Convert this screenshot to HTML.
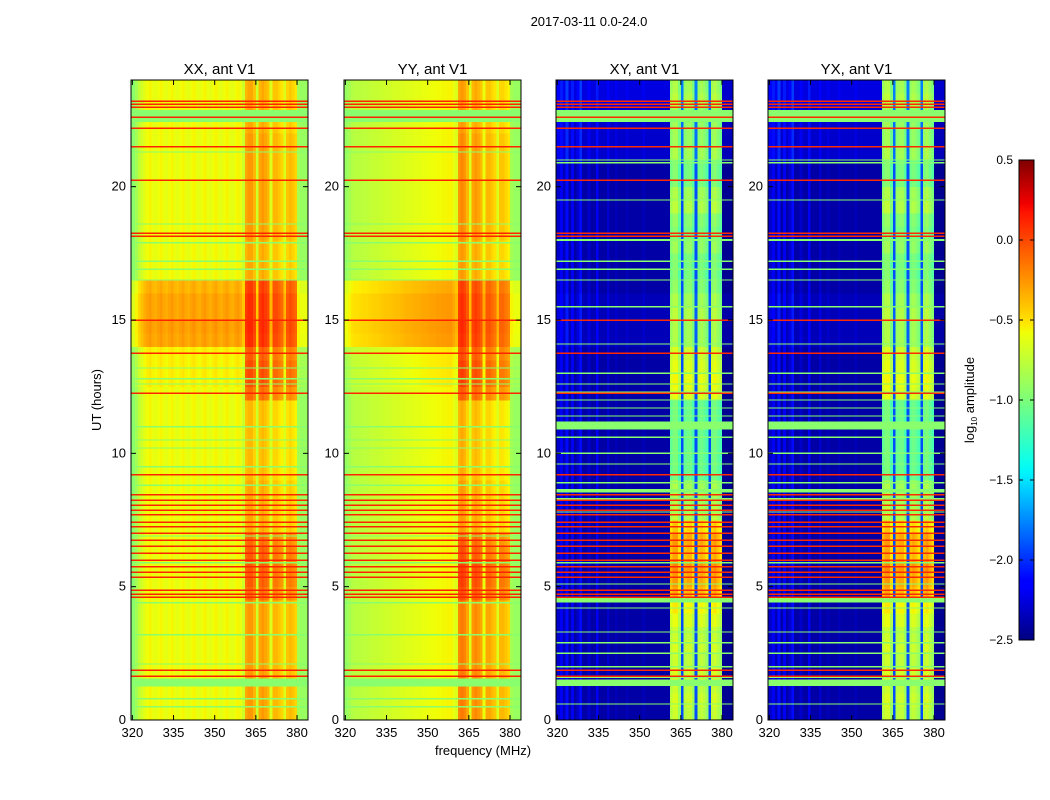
<!DOCTYPE html>
<html><head><meta charset="utf-8">
<style>
body{margin:0;background:#fff;}
svg{display:block;font-family:"Liberation Sans",sans-serif;}
</style></head>
<body>
<svg id="fig" width="1050" height="800" xmlns="http://www.w3.org/2000/svg">
<defs>
<linearGradient id="jet" x1="0" y1="1" x2="0" y2="0">
<stop offset="0" stop-color="#000080"/><stop offset="0.11" stop-color="#0000ff"/>
<stop offset="0.125" stop-color="#0000ff"/><stop offset="0.34" stop-color="#00ecff"/>
<stop offset="0.35" stop-color="#00f6fb"/><stop offset="0.375" stop-color="#0fffe8"/>
<stop offset="0.5" stop-color="#7cff79"/><stop offset="0.64" stop-color="#efff08"/>
<stop offset="0.66" stop-color="#ffe600"/><stop offset="0.89" stop-color="#ff1400"/>
<stop offset="0.91" stop-color="#f10000"/><stop offset="1" stop-color="#800000"/>
</linearGradient>
</defs>
<text x="589" y="26" font-size="13" text-anchor="middle">2017-03-11 0.0-24.0</text>
<text x="483" y="755" font-size="13" text-anchor="middle">frequency (MHz)</text>
<text transform="translate(101,400) rotate(-90)" font-size="13" text-anchor="middle">UT (hours)</text>
<g id="panels"></g>
<g id="cbar">
<rect x="1019" y="160" width="15" height="480" fill="url(#jet)" stroke="#000" stroke-width="1"/>
<text transform="translate(974,400) rotate(-90)" font-size="13" text-anchor="middle">log<tspan font-size="8" dy="3">10</tspan><tspan dy="-3"> amplitude</tspan></text>
</g>
</svg>
<script>
// ---- data ----
const freqStart = 320; // MHz, 1 MHz bins
const freqXX = [-0.95,-0.85,-0.75,-0.68,
 -0.62,-0.58,-0.55,-0.6,-0.62,-0.58,-0.55,-0.6,-0.62,-0.58,-0.55,-0.6,-0.62,-0.58,-0.55,-0.6,-0.62,-0.58,-0.55,-0.6,-0.62,-0.58,-0.55,-0.6,-0.62,-0.58,-0.55,-0.6,-0.62,-0.58,-0.55,-0.6,-0.62,-0.58,-0.55,-0.6,
 -0.7,-0.35,-0.3,-0.3,-0.4,-0.7,-0.35,-0.3,-0.35,-0.4,-0.65,-0.4,-0.4,-0.45,-0.5,-0.65,-0.45,-0.4,-0.45,-0.5,-0.85,-0.9,-0.9,-0.9];
const freqYY = [-0.9,-0.85,-0.8,-0.78,
 -0.78,-0.77,-0.76,-0.76,-0.75,-0.74,-0.73,-0.73,-0.72,-0.71,-0.7,-0.7,-0.69,-0.68,-0.67,-0.67,-0.66,-0.65,-0.64,-0.64,-0.63,-0.62,-0.62,-0.61,-0.6,-0.6,-0.59,-0.58,-0.58,-0.57,-0.57,-0.56,-0.56,-0.55,-0.55,-0.6,
 -0.65,-0.3,-0.25,-0.3,-0.4,-0.65,-0.35,-0.3,-0.35,-0.4,-0.6,-0.4,-0.4,-0.45,-0.5,-0.65,-0.45,-0.45,-0.5,-0.55,-0.85,-0.9,-0.9,-0.9];
const freqXY = [-2.3,-2.2,-2.35,-2.1,
 -2.4,-2.2,-2.4,-2.3,-2.1,-2.4,-2.4,-2.3,-2.4,-2.4,-2.2,-2.4,-2.4,-2.4,-2.3,-2.4,-2.4,-2.35,-2.4,-2.4,-2.4,-2.35,-2.4,-2.4,-2.4,-2.4,-2.4,-2.35,-2.4,-2.4,-2.4,-2.4,-2.4,-2.4,-2.4,-2.4,
 -2.4,-1.1,-1.0,-1.0,-1.2,-1.9,-1.1,-1.05,-1.05,-1.2,-1.9,-1.1,-1.05,-1.1,-1.2,-1.9,-1.05,-1.0,-1.1,-1.2,-2.45,-2.45,-2.45,-2.45];
const freqYX = [-2.3,-2.2,-2.35,-2.1,
 -2.4,-2.2,-2.4,-2.3,-2.1,-2.4,-2.4,-2.3,-2.4,-2.4,-2.2,-2.4,-2.4,-2.4,-2.3,-2.4,-2.4,-2.35,-2.4,-2.4,-2.4,-2.35,-2.4,-2.4,-2.4,-2.4,-2.4,-2.35,-2.4,-2.4,-2.4,-2.4,-2.4,-2.4,-2.4,-2.4,
 -2.4,-1.1,-1.0,-1.0,-1.2,-1.9,-1.1,-1.05,-1.05,-1.2,-1.9,-1.1,-1.05,-1.1,-1.2,-1.9,-1.05,-1.0,-1.1,-1.2,-2.45,-2.45,-2.45,-2.45];
const bandWeight = [0,0,0,0, 0,0,0,0,0,0,0,0,0,0,0,0,0,0,0,0,0,0,0,0,0,0,0,0,0,0,0,0,0,0,0,0,0,0,0,0,
 0,1,1,1,1,0,1,1,1,1,0,1,1,1,1,0,1,1,1,1,0,0,0,0];
// half-hour time bins
const timeXX = [0,0,0,0,0,0,0,0,0,0,0,0,0,0,0,0,0,0,0,0,0,0,0,0,0,0.05,0.05,0.05,0.3,0.32,0.3,0.3,0.25,0,0,0,0,0,0,0,0,0,0,0,0,0,0,0];
const timeYY = [0,0,0,0,0,0,0,0,0,0,0,0,0,0,0,0,0,0,0,0,0,0,0,0,0,0.05,0.05,0.05,0.3,0.32,0.3,0.3,0.25,0,0,0,0,0,0,0,0,0,0,0,0,0,0,0];
const timeXY = [0,0,0,0,0,0,0,0,0,0,0,0,0,0,0,0,0,0,0,0,0,0,0,0,0,0,0,0,0.05,0.05,0.05,0.05,0,0,0,0,0,0,0,0,0,0,0.1,0.1,0.1,0.1,0.15,0.15];
const timeYX = [0,0,0,0,0,0,0,0,0,0,0,0,0,0,0,0,0,0,0,0,0,0,0,0,0,0,0,0,0.05,0.05,0.05,0.05,0,0,0,0,0,0,0,0,0,0,0.1,0.1,0.1,0.1,0.15,0.15];
const bandTimeXX = [0.05,0.05,0.05,0.05,0.05,0.05,0.05,0.05,0.05,0.2,0.25,0.25,0.25,0.2,0,0,0,0,-0.05,-0.05,-0.05,-0.05,-0.05,-0.05,0.2,0.25,0.25,0.2,0.1,0.1,0.1,0.1,0.1,0,0,0,0.05,0.05,0.05,0.05,0.05,0.05,0.05,0.05,0,0,0,0];
const bandTimeYY = [0.1,0.1,0.1,0.1,0.1,0.1,0.1,0.1,0.1,0.25,0.3,0.3,0.25,0.2,0,0,0,0,-0.05,-0.05,-0.05,-0.05,-0.05,-0.05,0.2,0.25,0.25,0.2,0.05,0.05,0.05,0.05,0.05,0,0,0,0.05,0.05,0.05,0.05,0.05,0.05,0.05,0.05,0,0,0,0];
const bandTimeXY = [0.3,0.35,0.3,0.35,0.3,0.35,0.3,0.4,0.5,0.7,0.75,0.8,0.7,0.75,0.6,0.25,0.2,0.2,0,0,0,0,0,0,0.4,0.45,0.4,0.35,0.15,0.15,0.2,0.15,0.1,0.05,0.05,0.15,0.05,0.1,0.25,0.2,0.05,0.05,0.1,0.05,0.05,0.05,0.1,0.05];
const bandTimeYX = [0.3,0.35,0.3,0.35,0.3,0.35,0.3,0.4,0.5,0.7,0.75,0.8,0.7,0.75,0.6,0.25,0.2,0.2,0,0,0,0,0,0,0.4,0.45,0.4,0.35,0.15,0.15,0.2,0.15,0.1,0.05,0.05,0.15,0.05,0.1,0.25,0.2,0.05,0.05,0.1,0.05,0.05,0.05,0.1,0.05];
// flagged rows (hours)
const redLineHours = [23.21,23.1,22.98,22.61,22.2,21.49,20.25,18.26,18.15,15.0,13.76,12.26,9.19,8.44,8.25,8.06,7.87,7.69,7.42,7.24,7.01,6.75,6.52,6.26,6.0,5.74,5.55,5.36,4.87,4.72,4.61,1.87,1.65];
const greenLineHoursXX = [22.65,21.3,18.6,17.9,17.2,16.9,16.5,13.2,12.8,12.6,11.0,10.5,10.2,9.5,8.8,6.9,5.9,4.4,3.2,2.1,1.4,0.8,0.5];
const greenLineSpanXX = [0.45,0.05,0.05,0.05,0.05,0.05,0.05,0.05,0.05,0.05,0.05,0.05,0.05,0.05,0.05,0.05,0.05,0.05,0.05,0.05,0.3,0.05,0.05];
const greenLineHoursXY = [22.65,21.0,20.9,19.5,18.0,17.2,16.9,16.5,15.5,14.1,13.0,12.6,12.3,12.0,11.7,11.4,11.05,10.6,10.0,9.6,8.9,8.6,8.3,7.8,5.9,5.1,4.6,4.5,4.2,3.3,2.9,2.5,2.0,1.6,1.4,0.6];
const greenLineSpanXY = [0.45,0.05,0.05,0.05,0.06,0.06,0.05,0.05,0.05,0.05,0.05,0.05,0.05,0.05,0.05,0.05,0.3,0.05,0.05,0.05,0.05,0.12,0.05,0.05,0.05,0.05,0.05,0.2,0.05,0.05,0.05,0.05,0.05,0.05,0.25,0.05];
const xTickLabels = [320,335,350,365,380];
const yTickLabels = [0,5,10,15,20];
const cbarTickLabels = [0.5,0.0,-0.5,-1.0,-1.5,-2.0,-2.5];

// ---- layout ----
const NS = "http://www.w3.org/2000/svg";
const panelLefts = [131,344,556,768];
const PW = 177, PT = 80, PB = 720;
const XMIN = 319.5, XMAX = 384, YMIN = 0, YMAX = 24, VMIN = -2.5, VMAX = 0.5;
const JR = [[0,0],[0.35,0],[0.66,1],[0.89,1],[1,0.5]];
const JG = [[0,0],[0.125,0],[0.375,1],[0.64,1],[0.91,0],[1,0]];
const JB = [[0,0.5],[0.11,1],[0.34,1],[0.65,0],[1,0]];
function seg(s, t){
  for (let i = 1; i < s.length; i++){
    if (t <= s[i][0]){ const a = s[i-1], b = s[i]; return a[1] + (b[1]-a[1])*(t-a[0])/(b[0]-a[0]); }
  }
  return s[s.length-1][1];
}
function jet(v){
  let t = (v - VMIN)/(VMAX - VMIN); t = Math.max(0, Math.min(1, t));
  const c = x => Math.round(255*Math.max(0, Math.min(1, x)));
  return `rgb(${c(seg(JR,t))},${c(seg(JG,t))},${c(seg(JB,t))})`;
}
function mk(tag, attrs, parent){
  const e = document.createElementNS(NS, tag);
  for (const k in attrs) e.setAttribute(k, attrs[k]);
  parent.appendChild(e); return e;
}
const panels = [
 {title:"XX, ant V1", freq:freqXX, time:timeXX, band:bandTimeXX, gh:greenLineHoursXX, gs:greenLineSpanXX, red:0.12, green:-0.95, name:"panel-xx"},
 {title:"YY, ant V1", freq:freqYY, time:timeYY, band:bandTimeYY, gh:greenLineHoursXX, gs:greenLineSpanXX, red:0.12, green:-0.95, name:"panel-yy"},
 {title:"XY, ant V1", freq:freqXY, time:timeXY, band:bandTimeXY, gh:greenLineHoursXY, gs:greenLineSpanXY, red:0.1, green:-0.95, name:"panel-xy"},
 {title:"YX, ant V1", freq:freqYX, time:timeYX, band:bandTimeYX, gh:greenLineHoursXY, gs:greenLineSpanXY, red:0.1, green:-0.95, name:"panel-yx"}
];
const root = document.getElementById('panels');
panels.forEach((p, pi) => {
  const L = panelLefts[pi];
  const xs = f => L + (f - XMIN)/(XMAX - XMIN)*PW;
  const ys = h => PB - (h - YMIN)/(YMAX - YMIN)*(PB - PT);
  const g = mk('g', {'shape-rendering':'crispEdges'}, root);
  
  
  const nT = p.time.length, dT = (YMAX - YMIN)/nT;
  for (let t = 0; t < nT; t++){
    for (let f = 0; f < p.freq.length; f++){
      const f0 = Math.max(XMIN, freqStart + f), f1 = Math.min(XMAX, freqStart + f + 1);
      const v = p.freq[f] + p.time[t] + bandWeight[f]*p.band[t];
      const x0 = f === 0 ? xs(XMIN) : xs(f0);
      const r = mk('rect', {x:x0.toFixed(2), y:ys((t+1)*dT).toFixed(2), width:(xs(f1)-x0+0.4).toFixed(2), height:(ys(t*dT)-ys((t+1)*dT)+0.4).toFixed(2), fill:jet(v)}, g);
      
      
    }
  }
  p.gh.forEach((h, i) => {
    const span = p.gs[i];
    const r = mk('rect', {x:L, y:ys(h + span/2).toFixed(2), width:PW, height:Math.max(1.3, ys(h - span/2) - ys(h + span/2)).toFixed(2), fill:jet(p.green)}, g);
    
    
  });
  redLineHours.forEach(h => {
    const r = mk('rect', {x:L, y:(ys(h)-0.7).toFixed(2), width:PW, height:1.5, fill:jet(p.red)}, g);
    
    
  });
  const fr = mk('rect', {x:L, y:PT, width:PW, height:PB-PT, fill:'none', stroke:'#000', 'stroke-width':1}, root);
  
  
  const tt = mk('text', {x:L+PW/2, y:74, 'font-size':15, 'text-anchor':'middle'}, root);
  tt.textContent = p.title;
  
  
  xTickLabels.forEach(v => {
    const x = xs(v);
    mk('line', {x1:x, x2:x, y1:PB, y2:PB-5, stroke:'#000'}, root);
    mk('line', {x1:x, x2:x, y1:PT, y2:PT+5, stroke:'#000'}, root);
    const tx = mk('text', {x:x, y:PB+17, 'font-size':13, 'text-anchor':'middle'}, root);
    tx.textContent = v;
    
    
  });
  yTickLabels.forEach(v => {
    const y = ys(v);
    mk('line', {x1:L, x2:L+5, y1:y, y2:y, stroke:'#000'}, root);
    mk('line', {x1:L+PW, x2:L+PW-5, y1:y, y2:y, stroke:'#000'}, root);
    const ty = mk('text', {x:L-5, y:y+4, 'font-size':13, 'text-anchor':'end'}, root);
    ty.textContent = v;
    
    
  });
});
const cb = document.getElementById('cbar');
cbarTickLabels.forEach(v => {
  const y = 640 - (v - VMIN)/(VMAX - VMIN)*480;
  mk('line', {x1:1019, x2:1023, y1:y, y2:y, stroke:'#000'}, cb);
  mk('line', {x1:1034, x2:1030, y1:y, y2:y, stroke:'#000'}, cb);
  const t = mk('text', {x:1013, y:y+4, 'font-size':12, 'text-anchor':'end'}, cb);
  t.textContent = v.toFixed(1).replace('-', '\u2212');
  
  
});
</script>
</body></html>
